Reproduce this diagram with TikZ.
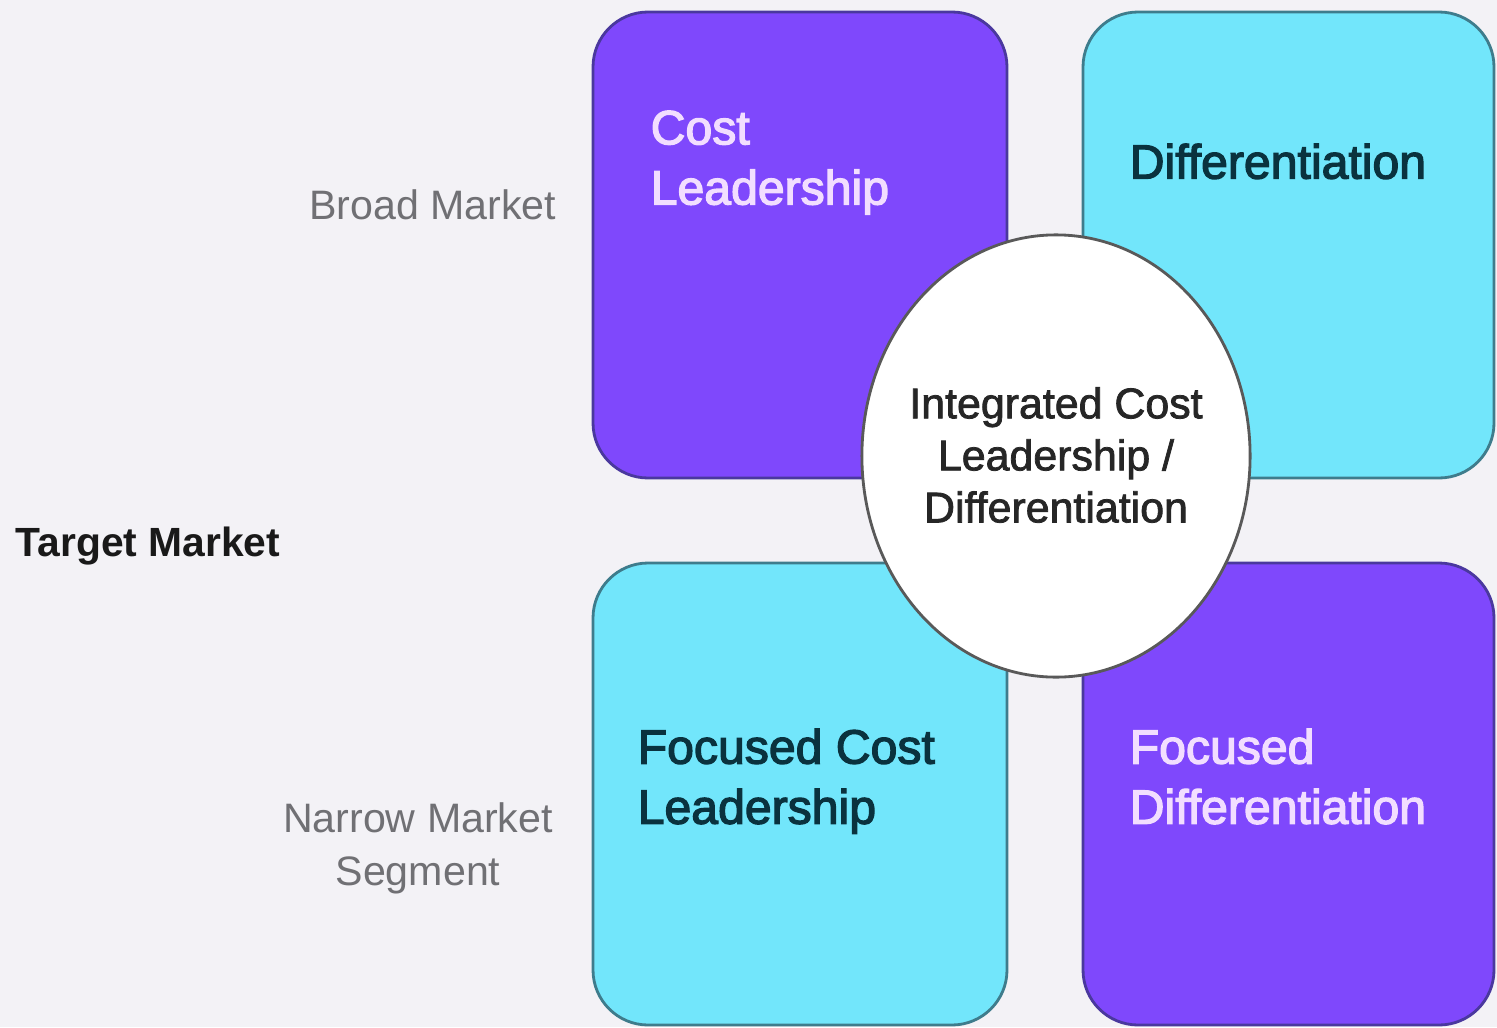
\documentclass[tikz,border=0pt]{standalone}
\usepackage{fontspec}
\setmainfont{Liberation Sans}
\newfontfamily\midfont[FakeBold=2.6]{Liberation Sans}
\newfontfamily\hubfont[FakeBold=1.8]{Liberation Sans}
\usepackage{tikz}

\definecolor{bgcol}{RGB}{243,242,246}
\definecolor{violetfill}{RGB}{127,72,252}
\definecolor{violetline}{RGB}{74,56,158}
\definecolor{cyanfill}{RGB}{114,230,251}
\definecolor{cyanline}{RGB}{62,124,140}
\definecolor{lilac}{RGB}{242,222,255}
\definecolor{deepteal}{RGB}{10,50,62}
\definecolor{sidegray}{RGB}{112,112,116}

\tikzset{
  violetbox/.style={fill=violetfill, draw=violetline, line width=0.8pt, rounded corners=0.55cm},
  cyanbox/.style={fill=cyanfill, draw=cyanline, line width=0.8pt, rounded corners=0.55cm},
  boxlabel/.style={anchor=north west, inner sep=0pt, align=left,
    font={\midfont\fontsize{13.7}{17.1}\selectfont}},
  sidelabel/.style={inner sep=0pt, align=center, text=sidegray,
    font={\fontsize{11.7}{15}\selectfont}}
}

\begin{document}
\begin{tikzpicture}[x=0.01cm, y=-0.01cm]
      \fill[bgcol] (0,0) rectangle (1497,1027);
      \useasboundingbox (0,0) rectangle (1497,1027);
      % the four quadrants
      \draw[violetbox] (593,12) rectangle (1007,478);
      \draw[cyanbox] (1083,12) rectangle (1494,478);
      \draw[cyanbox] (593,563) rectangle (1007,1025);
      \draw[violetbox] (1083,563) rectangle (1494,1025);
      % centre
      \draw[fill=white, draw=black!65, line width=0.8pt]
        (1056,456) ellipse [x radius=1.94cm, y radius=2.21cm];
      \node[inner sep=0pt, align=center, text=black!85,
        font={\hubfont\fontsize{12.2}{14.8}\selectfont}] (hub) at (1056,455)
        {Integrated Cost\\Leadership /\\Differentiation};
      \node[boxlabel, text=lilac] (cost) at (650,110) {Cost\\Leadership};
      \node[boxlabel, text=deepteal] (diff) at (1129,143) {Differentiation};
      \node[boxlabel, text=deepteal] (fcost) at (637,728) {Focused Cost\\Leadership};
      \node[boxlabel, text=lilac] (fdiff) at (1129,728) {Focused\\Differentiation};
      % axis labels
      \node[sidelabel, anchor=east] (broad) at (557,205) {Broad Market};
      \node[sidelabel, anchor=west, text=black!90,
        font={\bfseries\fontsize{11.6}{15}\selectfont}] (target) at (15,546) {Target Market};
      \node[sidelabel] (narrow) at (418,848) {Narrow Market\\Segment};
    \end{tikzpicture}
\end{document}
